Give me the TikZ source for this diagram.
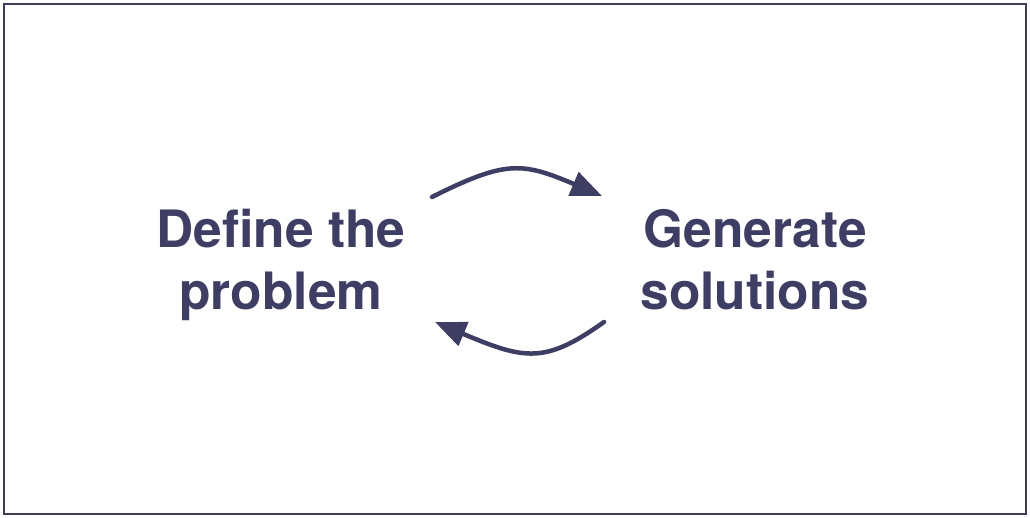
\documentclass[tikz,border=0pt]{standalone}
\usepackage{fontspec}
\setmainfont{TeX Gyre Heros}
\usetikzlibrary{arrows.meta}
\definecolor{ink}{HTML}{3E3D63}
\definecolor{frame}{HTML}{3F3D56}
\begin{document}
\begin{tikzpicture}[x=1pt,y=1pt,
  label/.style={font=\fontsize{51.5}{62}\selectfont\bfseries, text=ink, align=center, inner sep=0pt, anchor=base},
  flow/.style={draw=ink, line width=4.5pt, line cap=round, -{Triangle[length=31pt,width=25pt]}}]
\useasboundingbox (0,0) rectangle (1030,-518);
\draw[frame, line width=2pt] (4,-4) rectangle (1026,-514);
\node[label] (def) at (281,-310) {Define the\\problem};
\node[label] (gen) at (755,-310) {Generate\\solutions};
\coordinate (t0) at (432,-197);
\coordinate (t1) at (602,-196);
\coordinate (b0) at (604,-322);
\coordinate (b1) at (435,-322);
\draw[flow] (t0) .. controls (506,-160) and (522,-162) .. (t1);
\draw[flow] (b0) .. controls (545,-364) and (525,-360) .. (b1);
\end{tikzpicture}
\end{document}
